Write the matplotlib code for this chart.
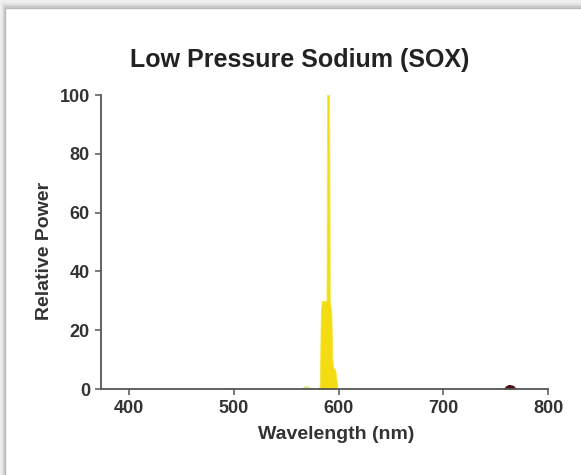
"""
Relative spectral power of a low pressure sodium (SOX) lamp.
"""
import matplotlib.pyplot as plt
from matplotlib.patches import Rectangle

# Sodium emission (yellow band with the D-line spike)
sodium_wl = [580, 582, 583, 584, 586, 588, 588.4, 588.9, 590.9, 591.5, 592, 593, 594, 595, 596, 597, 598, 599]
sodium_pw = [0, 1, 26, 30, 30, 30, 30, 100, 100, 30, 29, 26, 10, 7, 7, 6, 3, 0]

# Weak lines elsewhere in the spectrum
cyan_wl = [490, 494, 498, 502, 505]
cyan_pw = [0, 0.4, 0.6, 0.4, 0]
green_wl = [562, 566, 569, 572, 575]
green_pw = [0, 0.8, 1.2, 0.8, 0]
red_wl = [757, 760, 763, 767, 770]
red_pw = [0, 1.2, 1.6, 1.2, 0]

x_ticks = [400, 500, 600, 700, 800]
y_ticks = [0, 20, 40, 60, 80, 100]

FONT = "Liberation Sans"
TEXT_COLOR = "#333333"

fig = plt.figure(figsize=(5.81, 4.75), dpi=100)
fig.patch.set_facecolor("white")

# grey frame along the top and left edges
for i, shade in enumerate(["#b8b8b8", "#c6c6c6", "#d4d4d4", "#e2e2e2", "#eeeeee"]):
    fig.patches.append(Rectangle((0, 1 - (8 - i * 1.4) / 475), 1, 1, transform=fig.transFigure,
                                 color=shade, zorder=-1))
    fig.patches.append(Rectangle((0, 0), (5 - i * 0.9) / 581, 1, transform=fig.transFigure,
                                 color=shade, zorder=-1))

ax = fig.add_axes([101 / 581, 1 - 389 / 475, 447 / 581, 294 / 475])
ax.set_facecolor("none")

ax.fill_between(cyan_wl, cyan_pw, color="#bfe9e0", lw=0)
ax.fill_between(green_wl, green_pw, color="#d8e98a", lw=0)
ax.fill_between(sodium_wl, sodium_pw, color="#f3dc12", lw=0.6, edgecolor="#f6e640")
ax.fill_between(red_wl, red_pw, color="#4a1010", lw=0)

ax.set_xlim(373, 800)
ax.set_ylim(0, 100)
ax.set_xticks(x_ticks)
ax.set_yticks(y_ticks)

for side in ["top", "right"]:
    ax.spines[side].set_visible(False)
for side in ["left", "bottom"]:
    ax.spines[side].set_color("#555555")
    ax.spines[side].set_linewidth(1.3)

ax.tick_params(colors="#555555", length=4, width=1.1, pad=4)
for label in ax.get_xticklabels() + ax.get_yticklabels():
    label.set_fontfamily(FONT)
    label.set_fontweight("bold")
    label.set_fontsize(13)
    label.set_color(TEXT_COLOR)

ax.set_xlabel("Wavelength (nm)", fontfamily=FONT, fontweight="bold",
              fontsize=14, color=TEXT_COLOR)
ax.set_ylabel("Relative Power", fontfamily=FONT, fontweight="bold",
              fontsize=14, color=TEXT_COLOR)
ax.xaxis.set_label_coords(0.526, -0.125)
ax.yaxis.set_label_coords(-0.107, 0.47)

fig.text(300 / 581, 1 - 60 / 475, "Low Pressure Sodium (SOX)", ha="center", va="center",
         fontfamily=FONT, fontweight="bold", fontsize=18, color="#222222")

fig.savefig("out.png", dpi=100)
